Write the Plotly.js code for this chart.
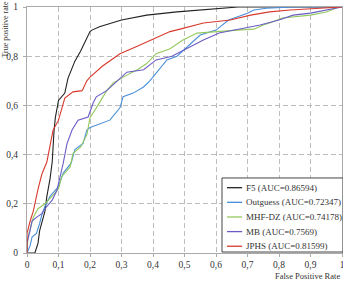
<!DOCTYPE html>
<html>
<head>
<meta charset="utf-8">
<script src="https://cdn.plot.ly/plotly-3.0.1.min.js"></script>
<style>html,body{margin:0;padding:0;background:#fff;}#chart{width:343px;height:281px;}</style>
</head>
<body>
<div id="chart"></div>
<script>
const seriesNames = ["F5 (AUC=0.86594)", "Outguess (AUC=0.72347)", "MHF-DZ (AUC=0.74178)", "MB (AUC=0.7569)", "JPHS (AUC=0.81599)"];
const seriesColors = ["#222222", "#4a8fd8", "#94c95e", "#6a5cc4", "#d83a2e"];

const f5X = [0, 0.025, 0.035, 0.04, 0.057, 0.063, 0.073, 0.08, 0.086, 0.09, 0.1, 0.12, 0.13, 0.152, 0.17, 0.19, 0.2, 0.206, 0.23, 0.30, 0.38, 0.476, 0.56, 0.67, 1];
const f5Y = [0, 0, 0.04, 0.09, 0.17, 0.23, 0.30, 0.37, 0.50, 0.55, 0.62, 0.65, 0.71, 0.78, 0.82, 0.87, 0.90, 0.906, 0.92, 0.947, 0.967, 0.98, 0.988, 1.0, 1.0];

const outguessX = [0, 0.01, 0.016, 0.03, 0.04, 0.047, 0.057, 0.073, 0.1, 0.115, 0.14, 0.152, 0.178, 0.19, 0.2, 0.263, 0.295, 0.305, 0.337, 0.37, 0.39, 0.41, 0.444, 0.476, 0.55, 0.60, 0.64, 0.70, 0.72, 0.76, 0.845, 1];
const outguessY = [0, 0.03, 0.065, 0.08, 0.12, 0.155, 0.19, 0.23, 0.27, 0.325, 0.365, 0.42, 0.445, 0.50, 0.51, 0.54, 0.59, 0.635, 0.65, 0.675, 0.70, 0.73, 0.785, 0.80, 0.886, 0.906, 0.947, 0.975, 0.988, 0.995, 1, 1];

const mhfX = [0, 0.003, 0.02, 0.035, 0.057, 0.08, 0.1, 0.11, 0.137, 0.146, 0.17, 0.19, 0.2, 0.22, 0.24, 0.253, 0.273, 0.305, 0.35, 0.38, 0.41, 0.454, 0.495, 0.54, 0.667, 0.72, 0.75, 0.77, 0.81, 0.9, 0.95, 0.99, 1];
const mhfY = [0, 0.065, 0.145, 0.18, 0.20, 0.23, 0.26, 0.31, 0.35, 0.405, 0.43, 0.48, 0.55, 0.59, 0.63, 0.66, 0.69, 0.715, 0.745, 0.77, 0.81, 0.83, 0.866, 0.894, 0.906, 0.91, 0.927, 0.935, 0.955, 0.967, 0.98, 1, 1];

const mbX = [0, 0, 0.01, 0.016, 0.03, 0.047, 0.057, 0.08, 0.095, 0.105, 0.115, 0.127, 0.143, 0.162, 0.194, 0.21, 0.22, 0.253, 0.286, 0.317, 0.37, 0.41, 0.46, 0.486, 0.51, 0.56, 0.61, 0.686, 0.74, 0.80, 0.845, 0.9, 0.95, 0.99, 1];
const mbY = [0, 0.04, 0.093, 0.13, 0.145, 0.16, 0.18, 0.215, 0.255, 0.31, 0.365, 0.445, 0.50, 0.54, 0.553, 0.61, 0.635, 0.66, 0.70, 0.735, 0.745, 0.785, 0.80, 0.817, 0.833, 0.866, 0.894, 0.914, 0.927, 0.947, 0.967, 0.975, 0.988, 1, 1];

const jphsX = [0, 0, 0.01, 0.02, 0.035, 0.047, 0.063, 0.073, 0.083, 0.1, 0.11, 0.12, 0.146, 0.175, 0.19, 0.2, 0.24, 0.295, 0.35, 0.40, 0.454, 0.486, 0.56, 0.645, 0.71, 0.77, 0.835, 0.93, 0.985, 1];
const jphsY = [0, 0.08, 0.13, 0.17, 0.26, 0.32, 0.37, 0.43, 0.50, 0.54, 0.59, 0.63, 0.655, 0.66, 0.70, 0.715, 0.76, 0.81, 0.84, 0.87, 0.90, 0.91, 0.935, 0.947, 0.967, 0.98, 0.988, 0.995, 1, 1];

const xTickVals = [0, 0.1, 0.2, 0.3, 0.4, 0.5, 0.6, 0.7, 0.8, 0.9, 1];
const yTickVals = [0, 0.2, 0.4, 0.6, 0.8, 1];

const xs = [f5X, outguessX, mhfX, mbX, jphsX];
const ys = [f5Y, outguessY, mhfY, mbY, jphsY];

const traces = xs.map((x, i) => ({
  type: "scatter", mode: "lines", x: x, y: ys[i], name: seriesNames[i],
  line: {color: seriesColors[i], width: 1.1}
}));

const font = "Liberation Serif, Times New Roman, serif";

// Compact legend (box, line samples and labels) built from the series arrays
const legX0 = 0.619, legX1 = 1.003, legY0 = 0.004, legY1 = 0.305;
const legTop = 0.2655, legStep = 0.0595;
const shapes = [{type: "rect", xref: "paper", yref: "paper", x0: legX0, x1: legX1, y0: legY0, y1: legY1,
  line: {color: "#444", width: 1}, fillcolor: "#fff", layer: "above"}];
const annotations = [];
seriesNames.forEach((name, i) => {
  const yy = legTop - i * legStep;
  shapes.push({type: "line", xref: "paper", yref: "paper", x0: 0.635, x1: 0.683, y0: yy, y1: yy,
    line: {color: seriesColors[i], width: 1.3}, layer: "above"});
  annotations.push({text: name, xref: "paper", yref: "paper", x: 0.689, y: yy, xanchor: "left",
    yanchor: "middle", showarrow: false, font: {family: font, size: 9, color: "#333"}});
});
annotations.push({text: "True positive rate", xref: "paper", yref: "paper", x: -0.0685, y: 0.91,
  xanchor: "center", yanchor: "middle", textangle: -90, showarrow: false,
  font: {family: font, size: 8, color: "#333"}});
annotations.push({text: "False Positive Rate", xref: "paper", yref: "paper", x: 1.0, y: -0.0935,
  xanchor: "right", yanchor: "middle", showarrow: false,
  font: {family: font, size: 8.5, color: "#333"}});

const layout = {
  width: 343, height: 281,
  margin: {l: 27, r: 1, t: 7, b: 28, pad: 0},
  paper_bgcolor: "#fff", plot_bgcolor: "#fff",
  separators: ", ",
  font: {family: font, size: 9.5, color: "#333"},
  showlegend: false,
  xaxis: {range: [0, 1], tickvals: xTickVals, showgrid: true, gridcolor: "#bdbdbd",
    griddash: "5px,3px", gridwidth: 1, zeroline: false, showline: true, linecolor: "#aaa",
    mirror: true, ticks: "outside", ticklen: 3, tickcolor: "#aaa", fixedrange: true,
    ticklabelstandoff: 0, ticklabeloverflow: "allow",
    tickfont: {family: font, size: 9.5, color: "#333"}},
  yaxis: {range: [0, 1], tickvals: yTickVals, showgrid: true, gridcolor: "#bdbdbd",
    griddash: "5px,3px", gridwidth: 1, zeroline: false, showline: true, linecolor: "#aaa",
    mirror: true, ticks: "outside", ticklen: 3, tickcolor: "#aaa", fixedrange: true,
    ticklabelstandoff: 3,
    tickfont: {family: font, size: 9.5, color: "#333"}},
  shapes: shapes,
  annotations: annotations
};

Plotly.newPlot("chart", traces, layout, {displayModeBar: false, staticPlot: true});
</script>
</body>
</html>
